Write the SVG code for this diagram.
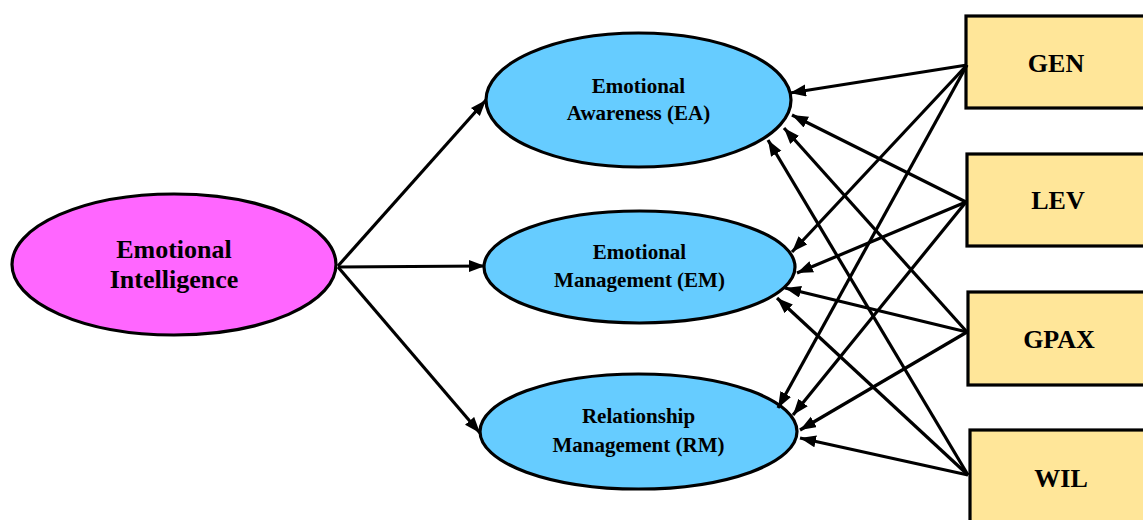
<svg xmlns="http://www.w3.org/2000/svg" width="1143" height="520" viewBox="0 0 1143 520">
<style>
.n{stroke:#000;stroke-width:3.2}
.ei{fill:#FF66FF}
.lv{fill:#66CCFF}
.bx{fill:#FFE699}
text{font-family:"Liberation Serif","Times New Roman",serif;font-weight:bold;fill:#000;text-anchor:middle}
.t1{font-size:26px}
.t2{font-size:21px}
.c line{stroke:#000;stroke-width:3.2;marker-end:url(#ah)}
</style>
<defs>
<marker id="ah" markerUnits="userSpaceOnUse" markerWidth="17" markerHeight="13" refX="16" refY="6" orient="auto">
<path d="M0,0 L16,6 L0,12 Z" fill="#000"/>
</marker>
</defs>
<rect width="1143" height="520" fill="#fff"/>
<g id="EI"><ellipse class="n ei" cx="174" cy="264.5" rx="162" ry="70.5"/><text class="t1" x="174" y="258">Emotional</text><text class="t1" x="174" y="288">Intelligence</text></g>
<g id="EA"><ellipse class="n lv" cx="638.5" cy="100" rx="152.5" ry="67"/><text class="t2" x="638.5" y="93">Emotional</text><text class="t2" x="638.5" y="120">Awareness (EA)</text></g>
<g id="EM"><ellipse class="n lv" cx="639.5" cy="267" rx="155.5" ry="56"/><text class="t2" x="639.5" y="259">Emotional</text><text class="t2" x="639.5" y="287">Management (EM)</text></g>
<g id="RM"><ellipse class="n lv" cx="638.5" cy="431.5" rx="158.5" ry="57.5"/><text class="t2" x="638.5" y="423">Relationship</text><text class="t2" x="638.5" y="452">Management (RM)</text></g>
<g id="GEN"><rect class="n bx" x="966" y="16" width="200" height="92"/><text class="t1" x="1056" y="72">GEN</text></g>
<g id="LEV"><rect class="n bx" x="967" y="154" width="200" height="92"/><text class="t1" x="1058" y="209">LEV</text></g>
<g id="GPAX"><rect class="n bx" x="968" y="292" width="200" height="93"/><text class="t1" x="1059" y="348">GPAX</text></g>
<g id="WIL"><rect class="n bx" x="970" y="430" width="200" height="100"/><text class="t1" x="1061" y="487">WIL</text></g>
<g id="connectors" class="c">
<line x1="338" y1="266" x2="486" y2="100"/>
<line x1="338" y1="267" x2="485" y2="266"/>
<line x1="338" y1="267" x2="480" y2="433"/>
<line x1="967" y1="65" x2="790" y2="93"/>
<line x1="967" y1="65" x2="792" y2="252"/>
<line x1="967" y1="65" x2="778" y2="408"/>
<line x1="966" y1="202" x2="792" y2="115"/>
<line x1="966" y1="202" x2="797" y2="273"/>
<line x1="966" y1="202" x2="793" y2="415"/>
<line x1="967" y1="332" x2="784" y2="128"/>
<line x1="967" y1="332" x2="785" y2="288"/>
<line x1="967" y1="332" x2="800" y2="430"/>
<line x1="968" y1="475" x2="768" y2="140"/>
<line x1="968" y1="475" x2="777" y2="298"/>
<line x1="968" y1="475" x2="800" y2="438"/>
</g>
</svg>
